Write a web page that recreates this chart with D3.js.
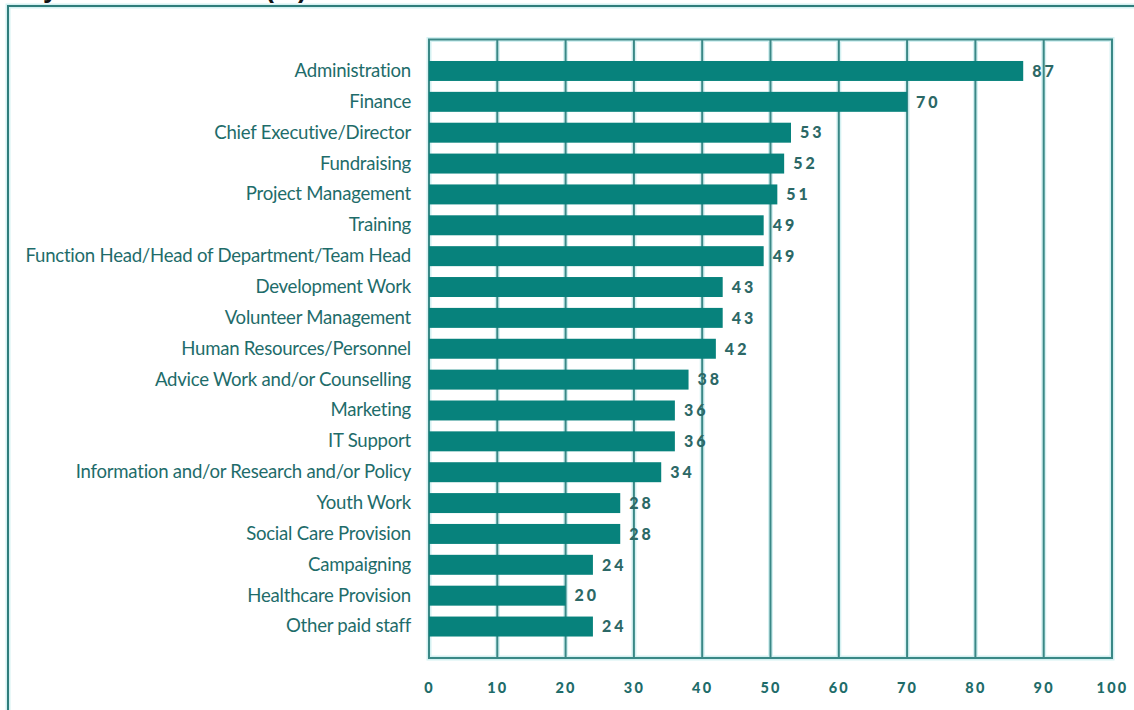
<!DOCTYPE html>
<html>
<head>
<meta charset="utf-8">
<script src="https://cdn.jsdelivr.net/npm/d3@7"></script>
<style>
  html, body { margin: 0; padding: 0; background: #ffffff; }
  svg { display: block; }
</style>
</head>
<body>
<svg id="chart" width="1134" height="710"></svg>
<script>
// Job roles held by paid staff, percentage of respondents
const roles = [
  "Administration",
  "Finance",
  "Chief Executive/Director",
  "Fundraising",
  "Project Management",
  "Training",
  "Function Head/Head of Department/Team Head",
  "Development Work",
  "Volunteer Management",
  "Human Resources/Personnel",
  "Advice Work and/or Counselling",
  "Marketing",
  "IT Support",
  "Information and/or Research and/or Policy",
  "Youth Work",
  "Social Care Provision",
  "Campaigning",
  "Healthcare Provision",
  "Other paid staff"
];
const percentages = [87, 70, 53, 52, 51, 49, 49, 43, 43, 42, 38, 36, 36, 34, 28, 28, 24, 20, 24];
const xTicks = [0, 10, 20, 30, 40, 50, 60, 70, 80, 90, 100];
const titleText = "Key staff roles held (%)";

const svg = d3.select("#chart");

const plot = { left: 429, right: 1112, top: 39.5, bottom: 658 };

const x = d3.scaleLinear().domain([0, 100]).range([plot.left, plot.right]);
const y = d3.scaleBand()
  .domain(roles)
  .range([plot.top, plot.bottom])
  .paddingInner(0.353)
  .paddingOuter(0.696);

const lineColor = "#3a8886";
const haloColor = "#d4f1f2";
const barColor = "#07827c";
const textColor = "#1e6c6a";

// Title (runs off the top edge)
svg.append("text")
  .attr("x", 307)
  .attr("y", -3)
  .attr("text-anchor", "end")
  .attr("font-family", "Liberation Sans, Arial, sans-serif")
  .attr("font-weight", "bold")
  .attr("font-size", 27)
  .attr("fill", "#111")
  .text(titleText);

// Outer frame
const frame = svg.append("g");
[[haloColor, 5], ["#2f7d7b", 2]].forEach(([c, w]) => {
  frame.append("path")
    .attr("d", "M1140,6 H8 V716")
    .attr("fill", "none")
    .attr("stroke", c)
    .attr("stroke-width", w);
});

// Vertical gridlines and plot border
const grid = svg.append("g");
[[haloColor, 5], [lineColor, 2]].forEach(([c, w]) => {
  grid.selectAll(null)
    .data(xTicks.slice(1, -1))
    .enter().append("line")
    .attr("x1", d => x(d)).attr("x2", d => x(d))
    .attr("y1", plot.top).attr("y2", plot.bottom)
    .attr("stroke", c).attr("stroke-width", w);
  grid.append("rect")
    .attr("x", plot.left).attr("y", plot.top)
    .attr("width", plot.right - plot.left)
    .attr("height", plot.bottom - plot.top)
    .attr("fill", "none")
    .attr("stroke", c).attr("stroke-width", w);
});

// Bars
svg.append("g").selectAll("rect")
  .data(roles)
  .enter().append("rect")
  .attr("x", x(0))
  .attr("y", d => y(d))
  .attr("width", (d, i) => x(percentages[i]) - x(0))
  .attr("height", y.bandwidth())
  .attr("fill", barColor);

// Value labels
svg.append("g").selectAll("text")
  .data(roles)
  .enter().append("text")
  .attr("x", (d, i) => x(percentages[i]) + 9)
  .attr("y", d => y(d) + y.bandwidth() / 2)
  .attr("dy", "0.36em")
  .attr("font-family", "Lato, sans-serif")
  .attr("font-weight", "900")
  .attr("font-size", 16)
  .attr("letter-spacing", 3)
  .attr("fill", "#2c6866")
  .text((d, i) => percentages[i]);

// Category labels
const yAxis = d3.axisLeft(y).tickSize(0).tickPadding(18);
const yg = svg.append("g")
  .attr("transform", `translate(${plot.left},0)`)
  .call(yAxis);
yg.select(".domain").remove();
yg.selectAll("text")
  .attr("font-family", "Lato, sans-serif")
  .attr("font-size", 18.6)
  .attr("letter-spacing", -0.25)
  .attr("fill", textColor);

// X tick labels
const xAxis = d3.axisBottom(x).tickValues(xTicks).tickSize(0).tickPadding(0);
const xg = svg.append("g")
  .attr("transform", `translate(0,${plot.bottom + 30})`)
  .call(xAxis);
xg.select(".domain").remove();
xg.selectAll("text")
  .attr("dy", "0.36em")
  .attr("font-family", "Lato, sans-serif")
  .attr("font-weight", "900")
  .attr("font-size", 14.5)
  .attr("letter-spacing", 2.2)
  .attr("fill", textColor);
</script>
</body>
</html>
